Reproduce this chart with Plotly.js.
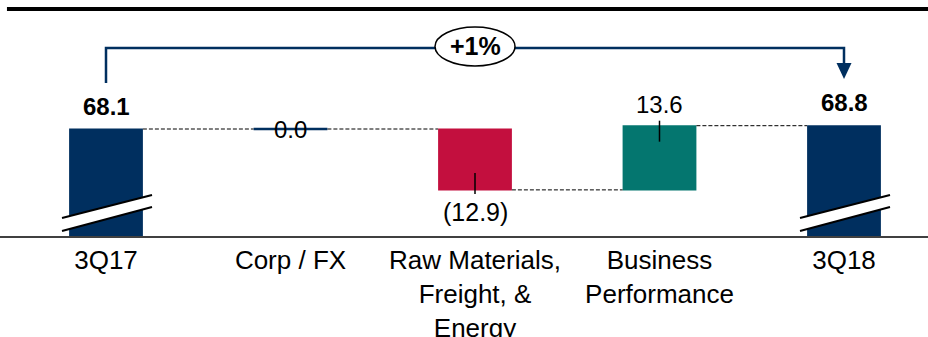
<!DOCTYPE html>
<html><head><meta charset="utf-8">
<script src="https://cdn.plot.ly/plotly-3.0.1.min.js"></script>
<style>html,body{margin:0;padding:0;background:#fff;}#chart{width:928px;height:337px;}</style>
</head><body><div id="chart"></div>
<script>
// ---- data ----
const categories = ["3Q17", "Corp / FX", "Raw Materials,<br>Freight, &<br>Energy", "Business<br>Performance", "3Q18"];
const values = [68.1, 0.0, -12.9, 13.6, 68.8];
const measures = ["absolute", "relative", "relative", "relative", "total"];
const changeLabel = "+1%";

// ---- styles ----
const NAVY = '#002F5F', RED = '#C30F3E', TEAL = '#04766F';
const FONT = 'Liberation Sans, Arial, sans-serif';
const yFloor = 45.43, yTop = 95.43;

const xIdx = categories.map((c, i) => i);

// running levels
const ends = [];
let lvl = 0;
values.forEach((v, i) => {
  if (measures[i] === 'relative') lvl = lvl + v; else lvl = v;
  ends.push(lvl);
});

const fmt = v => v < 0 ? '(' + Math.abs(v).toFixed(1) + ')' : v.toFixed(1);

const trace = {
  type: 'waterfall',
  x: xIdx,
  y: values,
  measure: measures,
  width: 0.4,
  base: 0,
  totals: {marker: {color: NAVY, line: {width: 0}}},
  increasing: {marker: {color: TEAL, line: {width: 0}}},
  decreasing: {marker: {color: RED, line: {width: 0}}},
  connector: {mode: 'between', line: {color: '#000', width: 1, dash: '4px,2px'}},
  textposition: 'none',
  hoverinfo: 'skip',
  showlegend: false
};

const annotations = [];
const shapes = [];

values.forEach((v, i) => {
  const isTotal = measures[i] !== 'relative';
  const txt = isTotal ? '<b>' + fmt(v) + '</b>' : fmt(v);
  let yshift;
  if (isTotal) yshift = 23;
  else if (v > 0) yshift = 21;
  else if (v < 0) yshift = -22;
  else yshift = 0;
  annotations.push({
    x: i, y: ends[i], xref: 'x', yref: 'y', text: txt, showarrow: false,
    yanchor: 'middle', xanchor: 'center', yshift: yshift,
    font: {family: FONT, size: v < 0 ? 25 : 24, color: '#000'}
  });
  if (!isTotal && v > 0) {
    shapes.push({type: 'line', xref: 'x', yref: 'y', ysizemode: 'pixel', yanchor: ends[i],
      x0: i, x1: i, y0: 5, y1: -16, line: {color: '#000', width: 1.5}});
  } else if (!isTotal && v < 0) {
    shapes.push({type: 'line', xref: 'x', yref: 'y', ysizemode: 'pixel', yanchor: ends[i],
      x0: i, x1: i, y0: 17, y1: -4, line: {color: '#000', width: 1.5}});
  } else if (!isTotal && v === 0) {
    shapes.push({type: 'line', xref: 'x', yref: 'y', x0: i - 0.2, x1: i + 0.2, y0: ends[i], y1: ends[i],
      line: {color: NAVY, width: 2.5}});
  }
  if (isTotal) {
    // axis-break band
    shapes.push({type: 'path', xref: 'x', yref: 'paper', xsizemode: 'pixel', ysizemode: 'pixel',
      xanchor: i, yanchor: 0, path: 'M -44,5 L 46,29 L 46,41 L -44,18 Z',
      fillcolor: '#fff', line: {width: 0}, layer: 'above'});
    shapes.push({type: 'path', xref: 'x', yref: 'paper', xsizemode: 'pixel', ysizemode: 'pixel',
      xanchor: i, yanchor: 0, path: 'M -44,5 L 46,29', line: {color: '#000', width: 2}, layer: 'above'});
    shapes.push({type: 'path', xref: 'x', yref: 'paper', xsizemode: 'pixel', ysizemode: 'pixel',
      xanchor: i, yanchor: 0, path: 'M -44,18 L 46,41', line: {color: '#000', width: 2}, layer: 'above'});
  }
});

// bracket from first to last total
const first = 0, last = values.length - 1, mid = (first + last) / 2;
shapes.push({type: 'path', xref: 'x', yref: 'paper',
  path: `M ${first},0.6483 L ${first},0.7966 L ${last},0.7966 L ${last},0.72`,
  line: {color: NAVY, width: 2.5}});
shapes.push({type: 'path', xref: 'x', yref: 'paper', xsizemode: 'pixel', ysizemode: 'pixel',
  xanchor: last, yanchor: 0.6653, path: 'M -7.5,16 L 7.5,16 L 0,0 Z',
  fillcolor: NAVY, line: {width: 0}});
shapes.push({type: 'circle', xref: 'x', yref: 'paper', xsizemode: 'pixel', ysizemode: 'pixel',
  xanchor: mid, yanchor: 0.8030, x0: -40, x1: 40, y0: -19.5, y1: 19.5,
  fillcolor: '#fff', line: {color: '#000', width: 1.5}});
annotations.push({x: mid, y: 0.8030, xref: 'x', yref: 'paper', text: '<b>' + changeLabel + '</b>',
  showarrow: false, xanchor: 'center', yanchor: 'middle',
  font: {family: FONT, size: 25, color: '#000'}});

// top rule
shapes.push({type: 'line', xref: 'paper', yref: 'paper', x0: 0.0075, x1: 1, y0: 0.9619, y1: 0.9619,
  line: {color: '#000', width: 4}});

const layout = {
  width: 928, height: 337,
  margin: {l: 0, r: 0, t: 0, b: 101, pad: 0},
  paper_bgcolor: '#fff', plot_bgcolor: '#fff',
  showlegend: false,
  xaxis: {
    range: [-0.5745, 4.4553], tickmode: 'array', tickvals: xIdx, ticktext: categories,
    showgrid: false, zeroline: false, showline: true, linecolor: '#404040', linewidth: 2,
    ticks: '', tickfont: {family: FONT, size: 26, color: '#000'}, fixedrange: true
  },
  yaxis: {range: [yFloor, yTop], visible: false, showgrid: false, zeroline: false, fixedrange: true},
  shapes: shapes,
  annotations: annotations
};

Plotly.newPlot('chart', [trace], layout, {displayModeBar: false, staticPlot: true});
</script>
</body></html>
